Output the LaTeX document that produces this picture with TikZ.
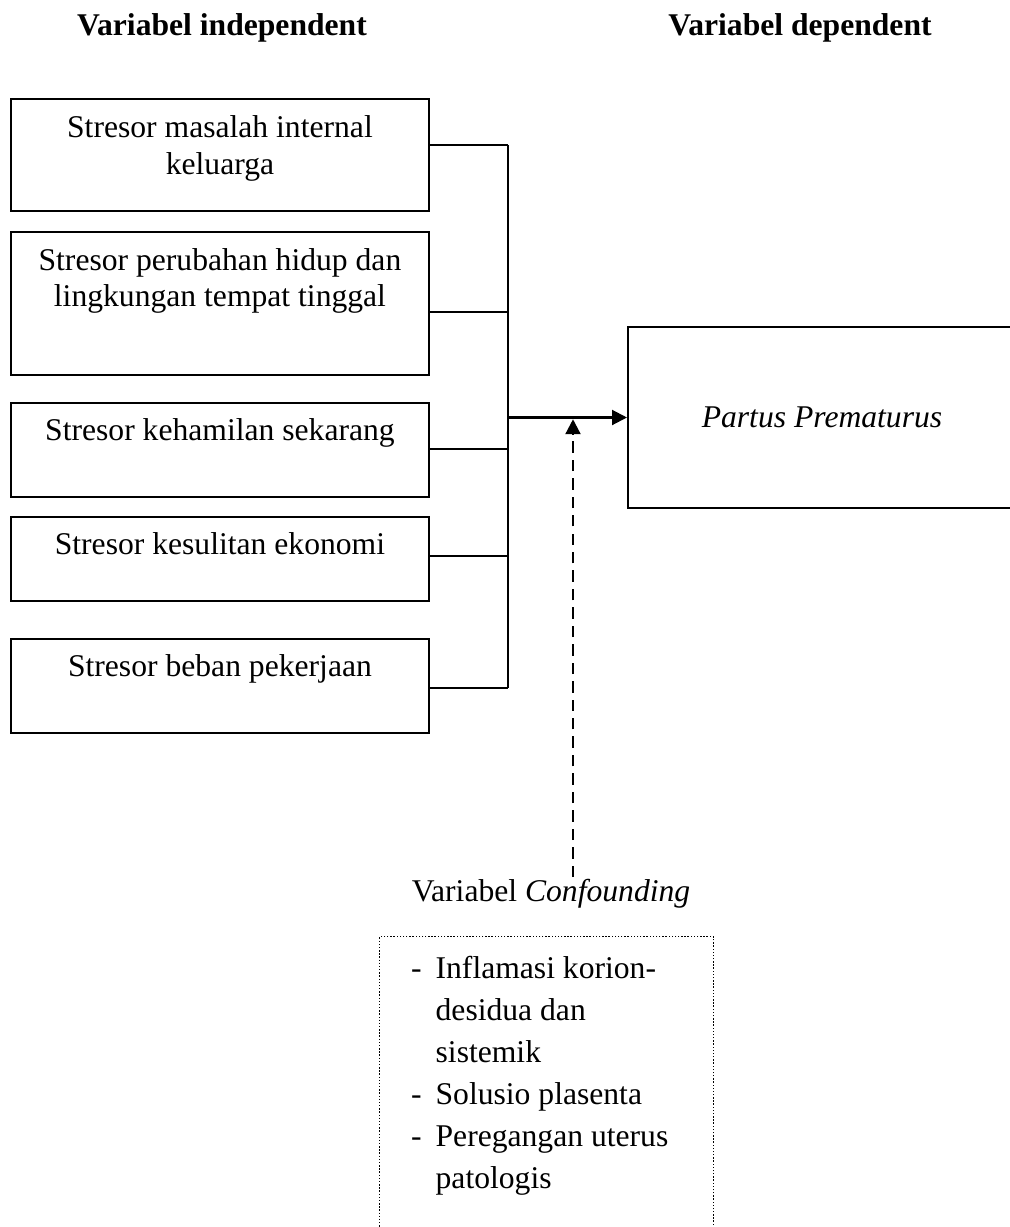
\documentclass[tikz,border=0pt]{standalone}
\usepackage{fontspec}
\setmainfont{Liberation Serif}
\usetikzlibrary{positioning, calc, arrows.meta}

\begin{document}
\begin{tikzpicture}[x=0.02cm, y=0.02cm, font=\fontsize{18}{21}\selectfont, >={Triangle[length=8.5pt, width=8.5pt]}, line width=1.2pt]
        % Styles
        \tikzset{
            stresbox/.style={draw, rectangle, minimum width=8.36cm, inner sep=0pt, outer sep=0pt},
            boxtext/.style={anchor=base, align=center, inner sep=0pt},
            title/.style={anchor=base, inner sep=0pt, font=\fontsize{18}{21}\selectfont\bfseries},
            link/.style={line width=1.2pt},
        }
        \useasboundingbox (0,0) rectangle (1009,-1227);

        % Titles
        \node[title] (titleind) at (222,-35) {Variabel independent};
        \node[title] (titledep) at (800,-35) {Variabel dependent};

        % Independent variables
        \node[stresbox, minimum height=2.24cm, anchor=north west] (s1) at (11,-99) {};
        \node[stresbox, minimum height=2.86cm, below=0.42cm of s1] (s2) {};
        \node[stresbox, minimum height=1.88cm, below=0.56cm of s2] (s3) {};
        \node[stresbox, minimum height=1.68cm, below=0.40cm of s3] (s4) {};
        \node[stresbox, minimum height=1.88cm, below=0.76cm of s4] (s5) {};

        % base of a two-line node is its last line
        \node[boxtext] at ($(s1.north)+(0,-75)$) {Stresor masalah internal\\keluarga};
        \node[boxtext] at ($(s2.north)+(0,-75)$) {Stresor perubahan hidup dan\\lingkungan tempat tinggal};
        \node[boxtext] at ($(s3.north)+(0,-38)$) {Stresor kehamilan sekarang};
        \node[boxtext] at ($(s4.north)+(0,-38)$) {Stresor kesulitan ekonomi};
        \node[boxtext] at ($(s5.north)+(0,-38)$) {Stresor beban pekerjaan};

        % Dependent variable
        \node[draw, minimum width=7.76cm, minimum height=3.62cm, inner sep=0pt, font=\fontsize{18}{21}\selectfont\itshape] (partus) at (822,-417.5) {Partus Prematurus};

        % Connectors
        \coordinate (join) at (508,-417.5);
        \foreach \b/\d in {s1/46, s2/80, s3/46, s4/39, s5/49} {
            \draw[link] ($(\b.north east)+(0,-\d)$) -- ($(\b.north east)+(79,-\d)$);
        }
        \draw[link] ($(s1.north east)+(79,-46)$) -- ($(s5.north east)+(79,-49)$);
        \draw[link, ->] (join) -- (partus.west);

        % Confounding
        \node[anchor=base, inner sep=0pt] (conflabel) at (551,-901) {Variabel \textit{Confounding}};
        \coordinate (dashfoot) at (573,-877);
        \draw[->, dash pattern=on 6.5pt off 4pt, line width=1.3pt, shorten >=1pt] (dashfoot) -- (dashfoot |- join);

        \node[draw, densely dotted, line width=0.8pt, minimum width=6.68cm, minimum height=6.3cm, inner sep=0pt, anchor=north west] (confbox) at (379,-936) {};
        \node[anchor=base west, align=left, inner sep=0pt, font=\fontsize{18}{23.8}\selectfont] (conflist) at (410,-1188) {%
            \makebox[14pt][l]{-}Inflamasi korion-\\
            \hspace*{14pt}desidua dan\\
            \hspace*{14pt}sistemik\\
            \makebox[14pt][l]{-}Solusio plasenta\\
            \makebox[14pt][l]{-}Peregangan uterus\\
            \hspace*{14pt}patologis};
    \end{tikzpicture}
\end{document}
